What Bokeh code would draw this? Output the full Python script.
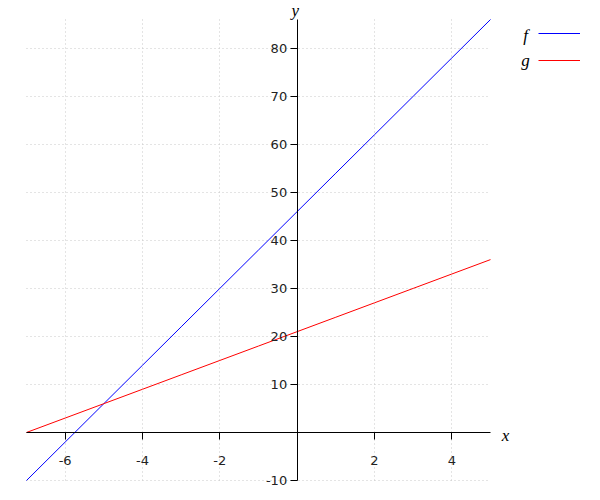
from bokeh.plotting import figure
from bokeh.models import (LinearAxis, FixedTicker, Grid, Range1d, Label, Legend,
                          LegendItem, ColumnDataSource, PrintfTickFormatter)
from bokeh.embed import file_html
from bokeh.resources import INLINE

# ---- data ----
x_vals = [-7, -6, -5, -4, -3, -2, -1, 0, 1, 2, 3, 4, 5]
f_vals = [-10, -2, 6, 14, 22, 30, 38, 46, 54, 62, 70, 78, 86]
g_vals = [0, 3, 6, 9, 12, 15, 18, 21, 24, 27, 30, 33, 36]
x_ticks = [-6, -4, -2, 2, 4]
y_ticks = [-10, 10, 20, 30, 40, 50, 60, 70, 80]
series_names = ["f", "g"]
series_colors = ["blue", "red"]

src = ColumnDataSource(dict(x=x_vals, f=f_vals, g=g_vals))

# ---- layout (pixels) ----
W, H = 592, 492
x_lo, x_hi = -7, 5          # drawn data extent
y_lo, y_hi = -10, 86
px_left, px_right = 26, 490  # where the data extent sits on the canvas
px_top, px_bottom = 19, 480
sx = (px_right - px_left) / (x_hi - x_lo)
sy = (px_bottom - px_top) / (y_hi - y_lo)
xr = Range1d(x_lo - px_left / sx, x_hi + (W - px_right) / sx)
yr = Range1d(y_lo - (H - px_bottom) / sy, y_hi + px_top / sy)

p = figure(width=W, height=H, x_range=xr, y_range=yr,
           output_backend="svg", toolbar_location=None,
           x_axis_location=None, y_axis_location=None,
           min_border=0, outline_line_color=None,
           background_fill_color="white", border_fill_color="white")
p.grid.visible = False

grid_kw = dict(grid_line_color="#c8c8c8", grid_line_dash="1 3", grid_line_width=1)
try:
    p.add_layout(Grid(dimension=0, ticker=FixedTicker(ticks=x_ticks),
                      cross_bounds=(y_lo, y_hi), **grid_kw))
    p.add_layout(Grid(dimension=1, ticker=FixedTicker(ticks=y_ticks),
                      cross_bounds=(x_lo, x_hi), **grid_kw))
except AttributeError:
    p.segment(x0=x_ticks, x1=x_ticks, y0=[y_lo] * len(x_ticks), y1=[y_hi] * len(x_ticks),
              line_color="#c8c8c8", line_dash="1 3")
    p.segment(x0=[x_lo] * len(y_ticks), x1=[x_hi] * len(y_ticks), y0=y_ticks, y1=y_ticks,
              line_color="#c8c8c8", line_dash="1 3")

axis_kw = dict(axis_line_color="black", axis_line_width=1,
               major_tick_line_color="black", major_tick_in=0, major_tick_out=7,
               minor_tick_line_color=None,
               formatter=PrintfTickFormatter(format="%d"),
               major_label_text_font="DejaVu Sans",
               major_label_text_font_size="13px",
               major_label_text_color="#222222")
xaxis = LinearAxis(ticker=FixedTicker(ticks=x_ticks), fixed_location=0,
                   bounds=(x_lo, x_hi), major_label_standoff=17, **axis_kw)
yaxis = LinearAxis(ticker=FixedTicker(ticks=y_ticks), fixed_location=0,
                   bounds=(y_lo, y_hi), major_label_standoff=3, **axis_kw)
p.add_layout(xaxis, "below")
p.add_layout(yaxis, "left")

rf = p.line("x", "f", source=src, line_color=series_colors[0], line_width=1)
rg = p.line("x", "g", source=src, line_color=series_colors[1], line_width=1)

# legend: lines only (texts are drawn to their left, as in the reference)
leg_top, glyph_h, gap = 20.5, 24, 3
leg_h = 2 * glyph_h + gap
legend = Legend(items=[LegendItem(label=" ", renderers=[rf]),
                       LegendItem(label=" ", renderers=[rg])],
                location=(538, H - leg_top - leg_h), glyph_width=42, glyph_height=glyph_h,
                spacing=gap, padding=0, margin=0, label_width=0,
                label_standoff=0, label_text_font_size="1px",
                border_line_color=None, background_fill_alpha=0)
p.add_layout(legend, "center")

serif = dict(text_font="Liberation Serif", text_font_style="italic",
             text_font_size="17px", text_color="black")
p.add_layout(Label(x=x_hi, y=y_hi, x_offset=35, y_offset=-16, text=series_names[0],
                   text_align="center", text_baseline="middle", **serif))
p.add_layout(Label(x=x_hi, y=y_hi, x_offset=35, y_offset=-41, text=series_names[1],
                   text_align="center", text_baseline="middle", **serif))
p.add_layout(Label(x=x_hi, y=0, x_offset=15, y_offset=-3, text="x",
                   text_align="center", text_baseline="middle", **serif))
p.add_layout(Label(x=0, y=y_hi, x_offset=-2, y_offset=9, text="y",
                   text_align="center", text_baseline="alphabetic", **serif))

open("out.html", "w").write(file_html(p, INLINE))
